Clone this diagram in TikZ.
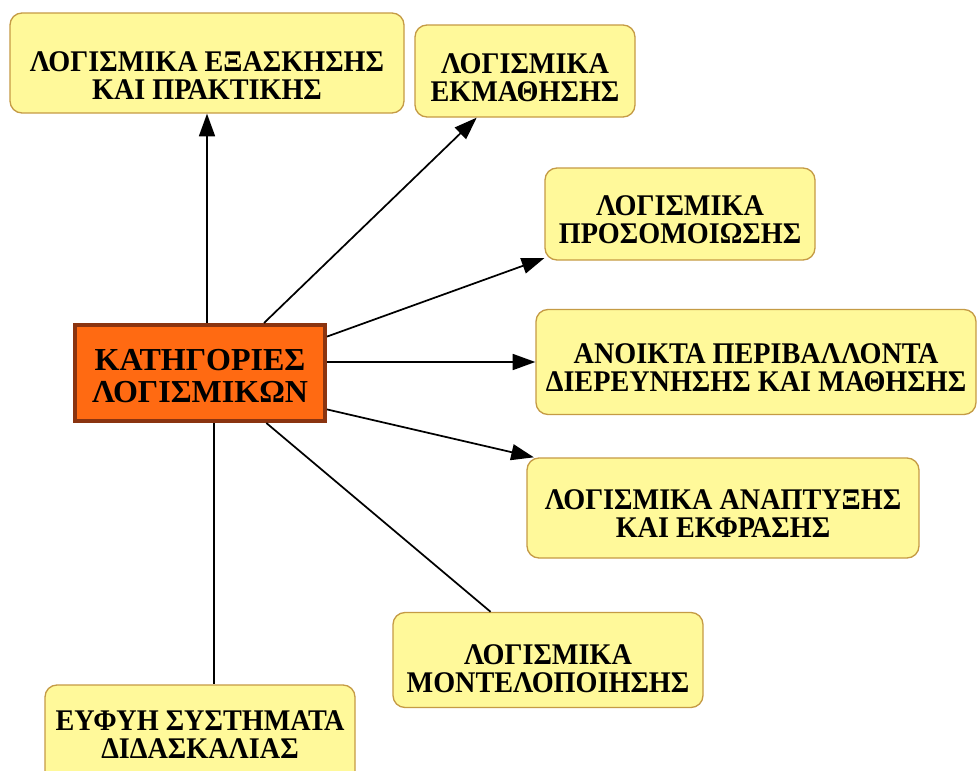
\documentclass[tikz,border=0pt]{standalone}
\usepackage{fontspec}
\newfontfamily\boxfont{Liberation Serif}[FakeStretch=0.94]
\newfontfamily\catfont{Liberation Serif}
\usetikzlibrary{arrows.meta}
\definecolor{SoftYellow}{HTML}{FFF99A}
\definecolor{GoldEdge}{HTML}{C59B45}
\definecolor{CatOrange}{HTML}{FF6A12}
\definecolor{CatEdge}{HTML}{8A3410}
% pushes the text of a box a little down
\newcommand\textsink[1]{\rule{0pt}{#1}}

\begin{document}
\begin{tikzpicture}[x=0.75pt,y=-0.75pt,
  every node/.style={font=\boxfont\bfseries\fontsize{22.5}{21}\selectfont,align=center},
  softbox/.style={draw=GoldEdge,line width=1pt,rounded corners=9pt,fill=SoftYellow},
  catbox/.style={draw=CatEdge,line width=3pt,fill=CatOrange,font=\catfont\bfseries\fontsize{24}{24}\selectfont},
  link/.style={line width=1.3pt},
  arrowlink/.style={link,-{Triangle[length=17pt,width=12pt]}}]
  \clip (0,0) rectangle (979,771);
  \fill[white] (0,0) rectangle (979,771);
  % central node
  \node[catbox,minimum width=187.5pt,minimum height=72pt] (cat) at (200,373) {\textsink{21pt}ΚΑΤΗΓΟΡΙΕΣ\\ΛΟΓΙΣΜΙΚΩΝ};
  % software categories
  \node[softbox,minimum width=295.5pt,minimum height=75pt] (drill) at (207,63) {\textsink{33pt}ΛΟΓΙΣΜΙΚΑ ΕΞΑΣΚΗΣΗΣ\\ΚΑΙ ΠΡΑΚΤΙΚΗΣ};
  \node[softbox,minimum width=165pt,minimum height=69pt] (tutor) at (525,71) {\textsink{25pt}ΛΟΓΙΣΜΙΚΑ\\ΕΚΜΑΘΗΣΗΣ};
  \node[softbox,minimum width=202.5pt,minimum height=69pt] (simul) at (680,214) {\textsink{23pt}ΛΟΓΙΣΜΙΚΑ\\ΠΡΟΣΟΜΟΙΩΣΗΣ};
  \node[softbox,minimum width=330pt,minimum height=78.75pt] (openenv) at (756,362) {\textsink{24pt}ΑΝΟΙΚΤΑ ΠΕΡΙΒΑΛΛΟΝΤΑ\\ΔΙΕΡΕΥΝΗΣΗΣ ΚΑΙ ΜΑΘΗΣΗΣ};
  \node[softbox,minimum width=294pt,minimum height=75pt] (express) at (723,508) {\textsink{23pt}ΛΟΓΙΣΜΙΚΑ ΑΝΑΠΤΥΞΗΣ\\ΚΑΙ ΕΚΦΡΑΣΗΣ};
  \node[softbox,minimum width=232.5pt,minimum height=71.25pt] (model) at (548,660) {\textsink{28pt}ΛΟΓΙΣΜΙΚΑ\\ΜΟΝΤΕΛΟΠΟΙΗΣΗΣ};
  \node[softbox,minimum width=232.5pt,minimum height=75pt] (its) at (200,735) {ΕΥΦΥΗ ΣΥΣΤΗΜΑΤΑ\\ΔΙΔΑΣΚΑΛΙΑΣ};
  % connectors
  \draw[arrowlink] (cat.north -| drill.south) -- (drill.south);
  \draw[arrowlink] (cat.38.7) -- (tutor.224);
  \draw[arrowlink] (cat.16.9) -- (simul.198.6);
  \draw[arrowlink] (cat.east |- openenv.west) -- (openenv.west);
  \draw[arrowlink] (cat.-16.5) -- (express.165.7);
  \draw[link] (cat.-37.7) -- (model.140.4);
  \draw[link] (cat.-74.8) -- (cat.-74.8 |- its.north);
\end{tikzpicture}
\end{document}
